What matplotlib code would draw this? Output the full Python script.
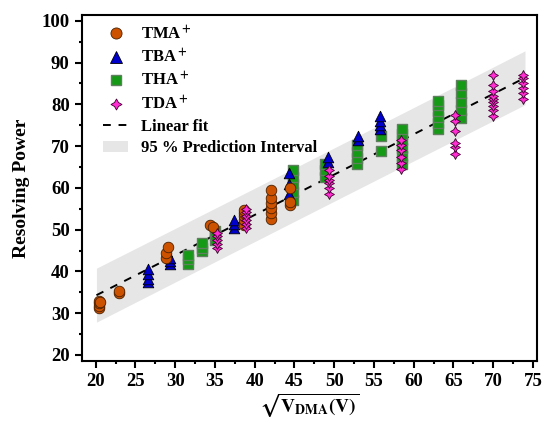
import matplotlib
matplotlib.use("Agg")
import matplotlib.pyplot as plt
import numpy as np
from matplotlib.patches import Patch
from matplotlib.lines import Line2D

plt.rcParams['font.family'] = ['Liberation Serif', 'DejaVu Serif']
plt.rcParams['font.weight'] = 'bold'
plt.rcParams['mathtext.fontset'] = 'stix'

# values
tma_x = [20.4, 20.4, 20.4, 20.4, 20.6, 22.9, 22.9, 28.8, 28.8, 29.1, 34.4, 34.8,
         38.6, 38.6, 38.6, 38.6, 38.6, 42.1, 42.1, 42.1, 42.1, 42.1, 42.1,
         44.4, 44.4, 44.4]
tma_y = [31.2, 31.8, 32.4, 33.0, 32.6, 34.8, 35.4, 43.2, 44.4, 45.9, 51.1, 50.7,
         51.2, 52.2, 53.2, 53.9, 54.6, 52.5, 53.9, 55.1, 56.3, 57.5, 59.5,
         55.9, 56.6, 59.9]

tba_x = [26.6, 26.6, 26.6, 26.6, 29.3, 29.3, 29.3, 37.4, 37.4, 37.4,
         44.3, 44.3, 44.3, 49.2, 49.2, 53.0, 53.0, 55.7, 55.7, 55.7, 55.7]
tba_y = [37.4, 38.2, 39.3, 40.6, 41.8, 42.5, 43.1, 50.5, 51.3, 52.3,
         58.6, 61.0, 63.6, 66.2, 67.4, 71.5, 72.3, 74.0, 75.0, 76.0, 77.1]

tha_x = [31.6, 31.6, 31.6, 33.4, 33.4, 33.4, 35.0, 35.0, 35.0,
         44.8, 44.8, 44.8, 44.8, 44.8, 48.9, 48.9, 48.9,
         52.9, 52.9, 52.9, 52.9, 55.9, 55.9,
         58.5, 58.5, 58.5, 58.5, 58.5, 58.5,
         63.1, 63.1, 63.1, 63.1, 63.1, 63.1,
         66.0, 66.0, 66.0, 66.0, 66.0]
tha_y = [41.8, 43.0, 44.0, 44.8, 45.6, 46.7, 47.6, 48.6, 49.6,
         57.2, 59.0, 61.0, 62.6, 64.2, 62.6, 64.2, 65.6,
         65.6, 67.1, 68.7, 70.3, 68.8, 72.5,
         65.6, 67.6, 69.6, 71.5, 73.0, 74.2,
         74.0, 75.6, 77.0, 78.4, 79.8, 80.8,
         76.8, 78.6, 80.6, 82.6, 84.6]

tda_x = [35.2, 35.2, 35.2, 35.2, 35.2,
         38.9, 38.9, 38.9, 38.9, 38.9, 38.9,
         49.4, 49.4, 49.4, 49.4, 49.4, 49.4,
         58.4, 58.4, 58.4, 58.4, 58.4, 58.4,
         65.2, 65.2, 65.2, 65.2, 65.2, 65.2,
         70.0, 70.0, 70.0, 70.0, 70.0, 70.0, 70.0, 70.0, 70.0,
         73.7, 73.7, 73.7, 73.7, 73.7, 73.7]
tda_y = [45.6, 46.6, 47.6, 48.5, 49.3,
         50.3, 51.3, 52.3, 53.3, 54.2, 55.0,
         58.5, 59.9, 61.1, 62.0, 62.9, 64.2,
         64.4, 65.9, 67.5, 69.1, 70.3, 71.5,
         68.1, 69.9, 70.8, 73.5, 75.9, 77.4,
         77.1, 78.6, 79.5, 80.6, 81.3, 82.0, 83.1, 84.6, 87.0,
         81.2, 82.7, 83.9, 85.1, 86.3, 87.0]

# linear fit and 95 % prediction interval over all points
all_x = np.array(tma_x + tba_x + tha_x + tda_x)
all_y = np.array(tma_y + tba_y + tha_y + tda_y)
n = len(all_x)
slope, intercept = np.polyfit(all_x, all_y, 1)
resid = all_y - (slope * all_x + intercept)
s = np.sqrt(np.sum(resid ** 2) / (n - 2))
t95 = 1.98
xf = np.linspace(all_x.min() - 0.3, all_x.max() + 0.3, 200)
yf = slope * xf + intercept
sxx = np.sum((all_x - all_x.mean()) ** 2)
half = t95 * s * np.sqrt(1 + 1 / n + (xf - all_x.mean()) ** 2 / sxx)

fig = plt.figure(figsize=(5.44, 4.26), dpi=100)
ax = fig.add_axes([0.151, 0.153, 0.836, 0.812])

ax.fill_between(xf, yf - half, yf + half, color='#e6e6e6', lw=0, zorder=1)
ax.plot(xf, yf, color='black', lw=1.4, ls=(0, (4, 4)), zorder=2)

ax.scatter(tha_x, tha_y, marker='s', s=46, color='#159a15', edgecolor='#5f7f5f', lw=1.0, zorder=3)
ax.scatter(tba_x, tba_y, marker='^', s=58, color='#0000cc', edgecolor='black', lw=0.6, zorder=4)
ax.scatter(tma_x, tma_y, marker='o', s=58, color='#cc5200', edgecolor='#4a2000', lw=0.6, zorder=5)
ax.scatter(tda_x, tda_y, marker=(4, 1, 0), s=50, color='#ff2ed2', edgecolor='#400030', lw=0.6, zorder=6)

handles = [
    Line2D([], [], ls='none', marker='o', ms=8, mfc='#cc5200', mec='#4a2000', mew=0.6),
    Line2D([], [], ls='none', marker='^', ms=8, mfc='#0000cc', mec='black', mew=0.6),
    Line2D([], [], ls='none', marker='s', ms=7, mfc='#159a15', mec='#5f7f5f', mew=1.0),
    Line2D([], [], ls='none', marker=(4, 1, 0), ms=8, mfc='#ff2ed2', mec='#400030', mew=0.6),
    Line2D([], [], color='black', lw=1.4, ls=(0, (4, 4))),
    Patch(facecolor='#e6e6e6', edgecolor='none'),
]
labels = [r'TMA$^{\bf +}$', r'TBA$^{\bf +}$', r'THA$^{\bf +}$', r'TDA$^{\bf +}$',
          'Linear fit', '95 % Prediction Interval']
ax.legend(handles, labels, loc='upper left', bbox_to_anchor=(0.032, 0.99), frameon=False,
          fontsize=12, handlelength=1.5, handletextpad=0.75, labelspacing=0.32,
          borderaxespad=0)

ax.set_xlim(18.3, 75.5)
ax.set_ylim(18.6, 101.4)
ax.set_xticks(np.arange(20, 76, 5))
ax.set_xticks(np.arange(22.5, 76, 5), minor=True)
ax.set_yticks(np.arange(20, 101, 10))
ax.set_yticks(np.arange(25, 100, 10), minor=True)
ax.tick_params(which='major', direction='out', length=5, width=1.5, labelsize=13.5, pad=4)
ax.tick_params(which='minor', direction='out', length=2.5, width=1.5)
for lbl in ax.get_xticklabels() + ax.get_yticklabels():
    lbl.set_fontweight('bold')
for sp in ax.spines.values():
    sp.set_linewidth(1.5)

ax.set_ylabel('Resolving Power', fontsize=14, fontweight='bold', labelpad=8)
ax.set_xlabel(r'$\sqrt{\mathbf{V}_{\mathbf{DMA}}\mathbf{(V)}}$', fontsize=14, labelpad=1)

fig.savefig('out.png', dpi=100)
